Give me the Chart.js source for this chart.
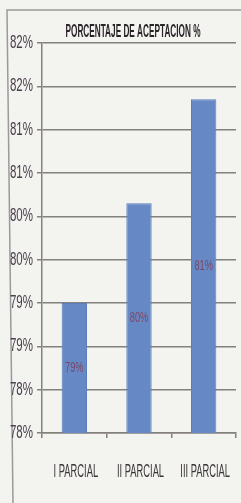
<!DOCTYPE html>
<html>
<head>
<meta charset="utf-8">
<script src="https://cdn.jsdelivr.net/npm/chart.js@4"></script>
<style>
  html, body { margin: 0; padding: 0; background: #f3f3f0; }
  canvas { display: block; }
</style>
</head>
<body>
<canvas id="graficoAceptacion" width="241" height="503"></canvas>
<script>
const parciales = ['I PARCIAL', 'II PARCIAL', 'III PARCIAL'];
const aceptacion = [79.0, 80.15, 81.35];
const ejeMin = 77.5;
const ejeMax = 82;
const ejePaso = 0.5;
const titulo = 'PORCENTAJE DE ACEPTACION %';

const fuente = "'Liberation Sans', Arial, sans-serif";

// texto estrecho (la fuente original es condensada y no esta instalada)
function textoEstrecho(c, texto, x, y, escala, align) {
    c.save();
    c.translate(x, y);
    c.scale(escala, 1);
    c.textAlign = align;
    c.fillText(texto, 0, 0);
    c.restore();
}

// marco de la foto (un poco inclinado)
const marco = {
    id: 'marco',
    beforeDraw(chart) {
        const c = chart.ctx;
        c.save();
        c.strokeStyle = '#9a9a9a';
        c.lineWidth = 1.5;
        c.beginPath();
        c.moveTo(241, 10);
        c.lineTo(7, 10);
        c.lineTo(13, 503);
        c.stroke();
        c.restore();
    }
};

const textosEstrechos = {
    id: 'textosEstrechos',
    afterDraw(chart) {
        const c = chart.ctx;
        const ejeY = chart.scales.y;
        const ejeX = chart.scales.x;
        c.save();
        c.textBaseline = 'middle';

        // titulo
        c.font = 'bold 19px ' + fuente;
        c.fillStyle = '#2a2428';
        const ancho = c.measureText(titulo).width;
        textoEstrecho(c, titulo, 133, 32, 135 / ancho, 'center');

        // eje y
        c.font = '18px ' + fuente;
        c.fillStyle = '#4b3f4b';
        ejeY.ticks.forEach((t, i) => {
            textoEstrecho(c, t.label, 33, ejeY.getPixelForTick(i), 0.64, 'right');
        });

        // eje x
        c.font = '18px ' + fuente;
        c.fillStyle = '#3a3438';
        ejeX.ticks.forEach((t, i) => {
            textoEstrecho(c, chart.data.labels[i], ejeX.getPixelForTick(i) + 1.5, 472, 0.52, 'center');
        });

        // etiquetas dentro de las barras
        c.font = '14px ' + fuente;
        c.fillStyle = '#7b4866';
        const base = ejeY.getPixelForValue(ejeMin);
        chart.getDatasetMeta(0).data.forEach((bar, i) => {
            textoEstrecho(c, Math.round(aceptacion[i]) + '%', bar.x, (bar.y + base) / 2, 0.66, 'center');
        });
        c.restore();
    }
};

const ctx = document.getElementById('graficoAceptacion').getContext('2d');
new Chart(ctx, {
    type: 'bar',
    data: {
        labels: parciales,
        datasets: [{
            data: aceptacion,
            backgroundColor: '#6689c6',
            borderColor: '#5a7dbb',
            borderWidth: 1,
            categoryPercentage: 0.8,
            barPercentage: 0.49
        }]
    },
    options: {
        responsive: false,
        animation: false,
        layout: { padding: { left: 6, right: 5, top: 43, bottom: 0 } },
        plugins: {
            legend: { display: false },
            tooltip: { enabled: false },
            title: { display: false }
        },
        scales: {
            y: {
                min: ejeMin,
                max: ejeMax,
                afterFit(scale) { scale.width = 36; },
                ticks: {
                    display: false,
                    stepSize: ejePaso,
                    callback: v => Math.round(v) + '%'
                },
                grid: { color: '#84807c', lineWidth: 1.5, tickLength: 5 },
                border: { color: '#84807c', width: 1.5 }
            },
            x: {
                afterFit(scale) { scale.height = 70; },
                ticks: { display: false },
                grid: { drawOnChartArea: false, drawTicks: true, tickLength: 5, color: '#84807c', lineWidth: 1.5 },
                border: { color: '#84807c', width: 1.5 }
            }
        }
    },
    plugins: [marco, textosEstrechos]
});
</script>
</body>
</html>
